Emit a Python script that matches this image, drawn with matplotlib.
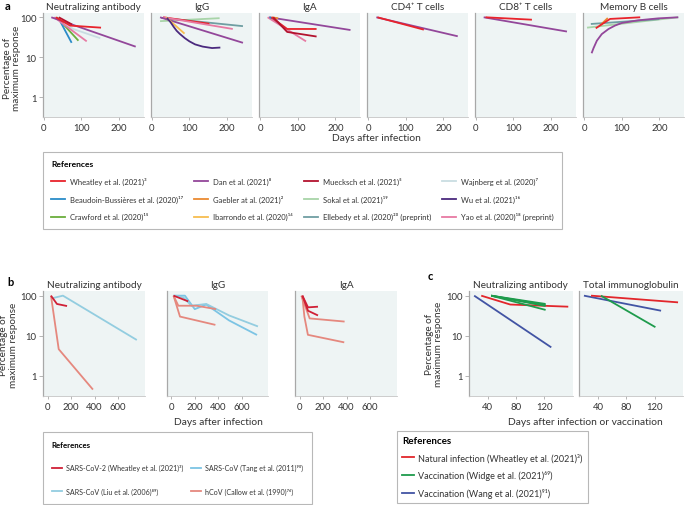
import matplotlib
matplotlib.use('Agg')
import matplotlib.pyplot as plt
from matplotlib.lines import Line2D

plt.rcParams['font.family'] = ['Lato', 'DejaVu Sans']

W, H = 685, 506

# ---- panel a data: (study, days, % of max response) ----
a_nab = [
    ('wajnberg', [30, 78, 150], [100, 51, 30]),
    ('crawford', [35, 92], [100, 26]),
    ('beaudoin', [40, 74], [92, 23]),
    ('yao', [28, 114], [100, 25]),
    ('dan', [20, 244], [100, 18.4]),
    ('muecksch', [40, 75], [100, 66]),
    ('wheatley', [32, 70, 152], [100, 62, 55]),
]
a_igg = [
    ('sokal', [22, 180], [80, 95]),
    ('ellebedy', [25, 242], [97, 60]),
    ('wheatley', [30, 153], [100, 69]),
    ('yao', [30, 215], [100, 51]),
    ('dan', [22, 242], [100, 23]),
    ('ibarrondo', [38, 87], [100, 39]),
    ('wu', [40, 50, 58, 66, 75, 88, 100, 115, 135, 160, 182],
     [97, 75, 58, 46, 38, 30, 25, 21, 18.5, 17, 17.5]),
]
a_iga = [
    ('dan', [24, 240], [100, 48]),
    ('yao', [20, 122], [100, 25]),
    ('beaudoin', [25, 37, 68], [100, 91, 51]),
    ('gaebler', [32, 48], [100, 94]),
    ('wheatley', [30, 72, 150], [100, 51, 51]),
    ('muecksch', [35, 72, 150], [100, 43, 33]),
]
a_cd4 = [
    ('dan', [22, 238], [100, 33.5]),
    ('wheatley', [25, 148], [100, 49]),
]
a_cd8 = [
    ('dan', [21, 242], [100, 44]),
    ('wheatley', [26, 149], [100, 87]),
]
a_memb = [
    ('sokal', [8, 250], [55, 100]),
    ('ellebedy', [18, 200], [68, 90]),
    ('dan', [20, 25, 34, 47, 65, 82, 100, 144, 197, 250],
     [12.6, 16.8, 26, 38, 51, 62, 72, 84, 94, 100]),
    ('gaebler', [42, 63], [62, 96]),
    ('wheatley', [31, 69, 149], [53, 91, 100]),
]
a_titles = ['Neutralizing antibody', 'IgG', 'IgA', 'CD4⁺ T cells',
            'CD8⁺ T cells', 'Memory B cells']

# ---- panel b data ----
b_nab = [
    ('liu', [37, 130, 760], [86, 100, 7.8]),
    ('callow', [28, 94, 386], [100, 4.6, 0.45]),
    ('wheatley', [28, 79, 165], [100, 62, 55]),
]
b_igg = [
    ('tang', [20, 117, 201, 299, 494, 732], [100, 100, 46, 60, 24, 10.4]),
    ('liu', [20, 103, 173, 299, 494, 740], [100, 91, 56, 62, 32, 17]),
    ('callow', [20, 75, 377], [100, 30, 18.6]),
    ('callow', [20, 61, 215, 383], [100, 56, 56, 46]),
    ('wheatley', [20, 145], [100, 72]),
]
b_iga = [
    ('callow', [14, 85, 383], [100, 27, 22.5]),
    ('callow', [22, 40, 70, 380], [100, 30, 10.5, 6.8]),
    ('wheatley', [23, 71, 156], [100, 51, 53]),
    ('wheatley', [23, 71, 156], [100, 42, 32]),
]
b_titles = ['Neutralizing antibody', 'IgG', 'IgA']

# ---- panel c data ----
c_nab = [
    ('wang', [21, 130], [100, 5.1]),
    ('wheatley', [31, 72, 154], [100, 60, 53]),
    ('widge', [45, 122], [100, 62]),
    ('widge', [45, 122], [100, 58]),
    ('widge', [45, 122], [100, 55]),
    ('widge', [45, 122], [100, 44]),
]
c_tig = [
    ('wang', [20, 129], [100, 42]),
    ('wheatley', [30, 153], [100, 68]),
    ('widge', [44, 121], [100, 16.3]),
]
c_titles = ['Neutralizing antibody', 'Total immunoglobulin']

a_colors = {
    'wheatley': '#e8232b', 'dan': '#93479a', 'muecksch': '#b3122e',
    'wajnberg': '#c9dde2', 'beaudoin': '#2a8cc8', 'gaebler': '#eb8a32',
    'sokal': '#a8d4a8', 'wu': '#4b2a7e', 'crawford': '#6aae3c',
    'ibarrondo': '#f7bd4f', 'ellebedy': '#6f9ea2', 'yao': '#e77aa3',
}
a_labels = [
    ('wheatley', 'Wheatley et al. (2021)³'),
    ('beaudoin', 'Beaudoin-Bussières et al. (2020)¹⁷'),
    ('crawford', 'Crawford et al. (2020)¹⁵'),
    ('dan', 'Dan et al. (2021)⁸'),
    ('gaebler', 'Gaebler at al. (2021)²'),
    ('ibarrondo', 'Ibarrondo et al. (2020)¹⁴'),
    ('muecksch', 'Muecksch et al. (2021)⁵'),
    ('sokal', 'Sokal et al. (2021)¹⁹'),
    ('ellebedy', 'Ellebedy et al. (2020)²⁰ (preprint)'),
    ('wajnberg', 'Wajnberg et al. (2020)⁷'),
    ('wu', 'Wu et al. (2021)¹⁶'),
    ('yao', 'Yao et al. (2020)¹⁸ (preprint)'),
]
b_colors = {'wheatley': '#d02036', 'tang': '#7cc4e4', 'liu': '#93cde0',
            'callow': '#e5887e'}
b_labels = [
    ('wheatley', 'SARS-CoV-2 (Wheatley et al. (2021)³)'),
    ('liu', 'SARS-CoV (Liu et al. (2006)⁸⁹)'),
    ('tang', 'SARS-CoV (Tang et al. (2011)⁹⁰)'),
    ('callow', 'hCoV (Callow et al. (1990)⁷⁶)'),
]
c_colors = {'wheatley': '#e2262b', 'widge': '#1e9b4c', 'wang': '#4254a4'}
c_labels = [
    ('wheatley', 'Natural infection (Wheatley et al. (2021)³)'),
    ('widge', 'Vaccination (Widge et al. (2021)⁶⁹)'),
    ('wang', 'Vaccination (Wang et al. (2021)⁹¹)'),
]

BG = '#eef4f4'
SP = '#a8a8a8'
TXT = '#333333'


def box(l, t, w, h):
    return [l / W, 1 - (t + h) / H, w / W, h / H]


def fpos(x, y):
    return x / W, 1 - y / H


def make_ax(fig, rect, xlim, ylim, xticks, first, title):
    ax = fig.add_axes(rect)
    ax.set_facecolor(BG)
    ax.set_yscale('log')
    ax.set_xlim(*xlim)
    ax.set_ylim(*ylim)
    for s in ['top', 'right']:
        ax.spines[s].set_visible(False)
    ax.spines['left'].set_color(SP)
    ax.spines['bottom'].set_color('#c4c4c4')
    ax.spines['left'].set_linewidth(0.9)
    ax.spines['bottom'].set_linewidth(0.6)
    ax.set_xticks(xticks)
    ax.set_xticklabels([str(t) for t in xticks])
    ax.minorticks_off()
    ax.set_yticks([1, 10, 100])
    if first:
        ax.set_yticklabels(['1', '10', '100'])
        ax.tick_params(axis='y', length=3, width=0.6, color=SP, pad=1.5,
                       labelsize=6.8, labelcolor=TXT)
    else:
        ax.set_yticklabels([])
        ax.tick_params(axis='y', length=0)
    ax.tick_params(axis='x', length=2.5, width=0.6, color=SP, pad=2,
                   labelsize=6.8, labelcolor=TXT)
    ax.set_title(title, fontsize=7.2, color=TXT, pad=3)
    return ax


def add_legend(fig, labels, colors, ncol, anchor, size, **kw):
    handles = [Line2D([], [], color=colors[k], lw=1.3) for k, _ in labels]
    leg = fig.legend(handles, [t for _, t in labels], ncol=ncol,
                     loc='upper left', bbox_to_anchor=fpos(*anchor),
                     title='References', alignment='left', fontsize=size,
                     title_fontproperties={'weight': 'bold',
                                           'size': size + 0.6},
                     frameon=True, fancybox=False, edgecolor='#b8b8b8',
                     framealpha=1, borderaxespad=0, **kw)
    leg.get_frame().set_linewidth(0.8)
    for t in leg.get_texts():
        t.set_color(TXT)
    return leg


fig = plt.figure(figsize=(W / 100, H / 100), dpi=100)

# ---- panel a ----
a_data = [a_nab, a_igg, a_iga, a_cd4, a_cd8, a_memb]
a_lefts = [43, 151, 259.3, 367.3, 475, 583.3]
for i, (series, left) in enumerate(zip(a_data, a_lefts)):
    ax = make_ax(fig, box(left, 14, 101, 103.5), (-2, 266), (0.33, 128),
                 [0, 100, 200], i == 0, a_titles[i])
    for study, days, vals in series:
        ax.plot(days, vals, color=a_colors[study], lw=1.3,
                solid_capstyle='butt')

fig.text(*fpos(5, 6), 'a', fontsize=8, fontweight='bold', va='center')
fig.text(*fpos(12, 68), 'Percentage of\nmaximum response', rotation=90,
         ha='center', va='center', fontsize=7.2, color=TXT,
         linespacing=1.0)
fig.text(*fpos(376, 139), 'Days after infection', ha='center', va='center',
         fontsize=7.4, color=TXT)

add_legend(fig, a_labels, a_colors, 4, (43, 153), 5.5, handlelength=1.8,
           handletextpad=0.65, columnspacing=1.45, labelspacing=1.25,
           borderpad=1.1)

# ---- panel b ----
b_data = [b_nab, b_igg, b_iga]
b_lefts = [43, 166.5, 295]
for i, (series, left) in enumerate(zip(b_data, b_lefts)):
    ax = make_ax(fig, box(left, 291.7, 102, 105), (-40, 830), (0.316, 133),
                 [0, 200, 400, 600], i == 0, b_titles[i])
    for study, days, vals in series:
        ax.plot(days, vals, color=b_colors[study], lw=1.3,
                solid_capstyle='butt')

fig.text(*fpos(7, 283), 'b', fontsize=8, fontweight='bold', va='center')
fig.text(*fpos(8.5, 345), 'Percentage of\nmaximum response', rotation=90,
         ha='center', va='center', fontsize=7.2, color=TXT,
         linespacing=1.0)
fig.text(*fpos(218, 422.5), 'Days after infection', ha='center',
         va='center', fontsize=7.4, color=TXT)

add_legend(fig, b_labels, b_colors, 2, (43, 433), 5.1, handlelength=1.5,
           handletextpad=0.45, columnspacing=1.1, labelspacing=2.3,
           borderpad=1.25)

# ---- panel c ----
c_data = [c_nab, c_tig]
c_lefts = [468.5, 579]
for i, (series, left) in enumerate(zip(c_data, c_lefts)):
    ax = make_ax(fig, box(left, 291.7, 104, 105), (13, 160), (0.316, 133),
                 [40, 80, 120], i == 0, c_titles[i])
    for study, days, vals in series:
        ax.plot(days, vals, color=c_colors[study], lw=1.3,
                solid_capstyle='butt')

fig.text(*fpos(428, 277), 'c', fontsize=8, fontweight='bold', va='center')
fig.text(*fpos(434, 344), 'Percentage of\nmaximum response', rotation=90,
         ha='center', va='center', fontsize=7.2, color=TXT,
         linespacing=1.0)
fig.text(*fpos(585, 422.5), 'Days after infection or vaccination',
         ha='center', va='center', fontsize=7.4, color=TXT)

add_legend(fig, c_labels, c_colors, 1, (397, 432), 6.5, handlelength=1.3,
           handletextpad=0.5, labelspacing=0.85, borderpad=0.55)

fig.savefig('out.png', dpi=100)
